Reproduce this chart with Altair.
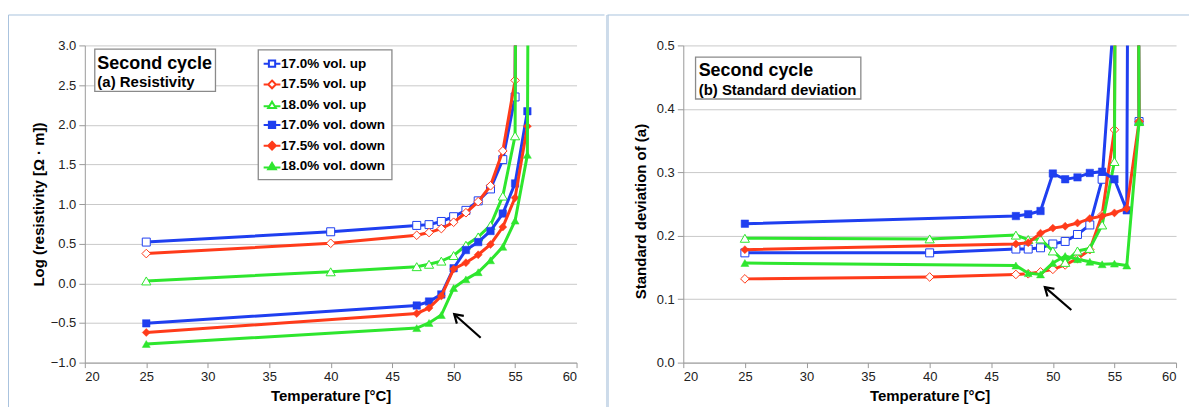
import altair as alt
import pandas as pd

FONT = "Liberation Sans"

# ---------------- data ----------------
series_names = ["17.0% vol. up", "17.5% vol. up", "18.0% vol. up",
                "17.0% vol. down", "17.5% vol. down", "18.0% vol. down"]

# (a) Log resistivity
res_t_up = [25, 40, 47, 48, 49, 50, 51, 52, 53, 54, 55, 56]
res_t_down = [25, 47, 48, 49, 50, 51, 52, 53, 54, 55, 56]
res_t_down_ext = [25, 47, 48, 49, 50, 51, 52, 53, 54, 55, 56, 57]
res_17_0_up = [0.52, 0.65, 0.73, 0.74, 0.78, 0.84, 0.92, 1.04, 1.19, 1.56, 2.35, 40]
res_17_5_up = [0.375, 0.505, 0.606, 0.64, 0.69, 0.77, 0.89, 1.03, 1.23, 1.67, 2.56, 40]
res_18_0_up = [0.03, 0.145, 0.21, 0.24, 0.28, 0.35, 0.48, 0.585, 0.73, 1.10, 1.86, 40]
res_17_0_down = [-0.505, -0.28, -0.23, -0.14, 0.19, 0.42, 0.52, 0.66, 0.88, 1.26, 2.17]
res_17_5_down = [-0.62, -0.38, -0.31, -0.16, 0.18, 0.26, 0.36, 0.49, 0.71, 1.08, 1.98]
res_18_0_down = [-0.765, -0.565, -0.50, -0.40, -0.06, 0.05, 0.14, 0.29, 0.46, 0.79, 1.62, 40]

# (b) Standard deviation
sd_t_up = [25, 40, 47, 48, 49, 50, 51, 52, 53, 54, 55, 56, 57]
sd_t_down = [25, 47, 48, 49, 50, 51, 52, 53, 54, 55, 56, 57]
sd_17_0_up = [0.173, 0.173, 0.179, 0.179, 0.181, 0.187, 0.191, 0.202, 0.217, 0.289, 0.56, 5.0, 0.38]
sd_17_5_up = [0.132, 0.135, 0.139, 0.140, 0.143, 0.147, 0.154, 0.164, 0.178, 0.233, 0.367, 5.0, 0.38]
sd_18_0_up = [0.196, 0.195, 0.201, 0.194, 0.195, 0.176, 0.158, 0.176, 0.180, 0.217, 0.317, 5.0, 0.38]
sd_17_0_down = [0.219, 0.231, 0.234, 0.239, 0.298, 0.289, 0.292, 0.299, 0.301, 0.289, 0.240, 5.0]
sd_17_5_down = [0.178, 0.187, 0.189, 0.204, 0.212, 0.215, 0.220, 0.227, 0.231, 0.236, 0.243, 0.38]
sd_18_0_down = [0.157, 0.153, 0.141, 0.139, 0.157, 0.168, 0.163, 0.159, 0.155, 0.156, 0.153, 0.38]

# annotation texts and arrows (data coordinates)
box_title = ["Second cycle"]
box_sub_a = ["(a) Resistivity"]
box_sub_b = ["(b) Standard deviation"]
arrow_a_tail = [52.2, -0.686]
arrow_a_head = [50.05, -0.39]
arrow_b_tail = [51.5, 0.083]
arrow_b_head = [49.35, 0.119]

# ---------------- styles ----------------
BLUE, RED, GREEN = "#1f3ff0", "#ff3b1a", "#2ee62e"
series_colors = [BLUE, RED, GREEN, BLUE, RED, GREEN]
series_shapes = ["square", "diamond", "triangle-up"] * 2
series_filled = [False, False, False, True, True, True]
series_sizes = [64, 75, 85, 56, 64, 64]

SQ = "M-1.2,0H-0.45M0.45,0H1.2M-0.45,-0.45H0.45V0.45H-0.45Z"
DI = "M-1.2,0H-0.55M0.55,0H1.2M0,-0.55L0.55,0L0,0.55L-0.55,0Z"
TR = "M-1.2,0.15H-0.5M0.5,0.15H1.2M0,-0.5L0.55,0.42L-0.55,0.42Z"
legend_paths = [SQ, DI, TR, SQ, DI, TR]
legend_fills = ["white", "white", "white", BLUE, RED, GREEN]

AXIS_GRAY = "#9a9a9a"
FRAME = "#a9c3de"


def x_enc():
    return alt.X("t:Q", scale=alt.Scale(domain=[20, 60], nice=False),
                 axis=alt.Axis(values=list(range(20, 61, 5)), title="Temperature [°C]",
                               grid=False, tickSize=5, labelPadding=3, titlePadding=5))


def y_enc(spec):
    lo, hi = spec["domain"]
    n = int(round((hi - lo) / spec["step"]))
    vals = [round(lo + i * spec["step"], 3) for i in range(n + 1)]
    axis_kw = dict(values=vals, format=".1f", title=spec["title"], grid=True,
                   tickSize=6, labelPadding=3, titlePadding=spec["tpad"])
    if "titleY" in spec:
        axis_kw["titleY"] = spec["titleY"]
    return alt.Y("v:Q", scale=alt.Scale(domain=spec["domain"], nice=False),
                 axis=alt.Axis(**axis_kw))


def series_layers(t_lists, v_lists, spec):
    layers = []
    for i, (ts, vs) in enumerate(zip(t_lists, v_lists)):
        df = pd.DataFrame({"t": ts, "v": vs})
        base = alt.Chart(df)
        enc = dict(x=x_enc(), y=y_enc(spec))
        layers.append(base.mark_line(color=series_colors[i], strokeWidth=3, clip=True).encode(**enc))
        layers.append(base.mark_point(shape=series_shapes[i], filled=True,
                                      fill=series_colors[i] if series_filled[i] else "white",
                                      stroke=series_colors[i],
                                      strokeWidth=1 if not series_filled[i] else 0.5,
                                      size=series_sizes[i], opacity=1, clip=True).encode(**enc))
    return layers


one = pd.DataFrame({"k": [0]})


def text_box(x0, x1, y0, y1, sub_text, tx, b1, b2):
    rect = alt.Chart(one).mark_rect(fill="white", stroke="#8a8a8a", strokeWidth=1.3).encode(
        x=alt.value(x0), x2=alt.value(x1), y=alt.value(y0), y2=alt.value(y1))
    t1 = alt.Chart(pd.DataFrame({"s": box_title})).mark_text(
        align="left", baseline="alphabetic", font=FONT, fontSize=18, fontWeight="bold", color="black"
    ).encode(text="s:N", x=alt.value(tx), y=alt.value(b1))
    t2 = alt.Chart(pd.DataFrame({"s": sub_text})).mark_text(
        align="left", baseline="alphabetic", font=FONT, fontSize=15, fontWeight="bold", color="black"
    ).encode(text="s:N", x=alt.value(tx), y=alt.value(b2))
    return [rect, t1, t2]


def arrow(tail, head, spec):
    df = pd.DataFrame({"t": [tail[0]], "v": [tail[1]], "t2": [head[0]], "v2": [head[1]]})
    shaft = alt.Chart(df).mark_rule(color="black", strokeWidth=2.2).encode(
        x=x_enc(), y=y_enc(spec), x2="t2:Q", y2="v2:Q")
    hd = pd.DataFrame({"t": [head[0]], "v": [head[1]]})
    tip = alt.Chart(hd).mark_point(shape="M-0.6,0.95L0,0L0.6,0.95", filled=False, stroke="black",
                                   strokeWidth=2.2, size=300, angle=312, opacity=1).encode(
        x=x_enc(), y=y_enc(spec))
    return [shaft, tip]


def frame(xl, xr, width, color):
    v = alt.Chart(one).mark_rule(color=color, strokeWidth=width).encode(
        x=alt.value(xl), y=alt.value(-30.5), y2=alt.value(364))
    h = alt.Chart(one).mark_rule(color=FRAME, strokeWidth=1).encode(
        x=alt.value(xl), x2=alt.value(xr), y=alt.value(-30.5))
    return [v, h]


# ---------------- left panel ----------------
spec_a = {"domain": [-1.0, 3.0], "step": 0.5, "title": "Log (resistivity [Ω · m])", "tpad": 4}
left_layers = series_layers(
    [res_t_up, res_t_up, res_t_up, res_t_down, res_t_down, res_t_down_ext],
    [res_17_0_up, res_17_5_up, res_18_0_up, res_17_0_down, res_17_5_down, res_18_0_down],
    spec_a)

legend_layer = alt.Chart(pd.DataFrame({"series": series_names})).mark_point(
    opacity=0, filled=True
).encode(
    shape=alt.Shape("series:N", scale=alt.Scale(domain=series_names, range=legend_paths),
                    legend=alt.Legend(title=None)),
    stroke=alt.Stroke("series:N", scale=alt.Scale(domain=series_names, range=series_colors),
                      legend=alt.Legend(title=None)),
    fill=alt.Fill("series:N", scale=alt.Scale(domain=series_names, range=legend_fills),
                  legend=alt.Legend(title=None)),
)

left = alt.layer(
    *frame(-76.5, 521, 1, FRAME),
    *left_layers,
    *arrow(arrow_a_tail, arrow_a_head, spec_a),
    *text_box(10, 131, 3.7, 46, box_sub_a, 12.6, 23.5, 41.5),
    legend_layer,
).properties(width=493, height=318)

# ---------------- right panel ----------------
spec_b = {"domain": [0.0, 0.5], "step": 0.1, "title": "Standard deviation of (a)", "tpad": 8,
          "titleY": 166}
right_layers = series_layers(
    [sd_t_up, sd_t_up, sd_t_up, sd_t_down, sd_t_down, sd_t_down],
    [sd_17_0_up, sd_17_5_up, sd_18_0_up, sd_17_0_down, sd_17_5_down, sd_18_0_down],
    spec_b)

right = alt.layer(
    *frame(-76, 507, 3, "#cddbea"),
    *right_layers,
    *arrow(arrow_b_tail, arrow_b_head, spec_b),
    *text_box(12.3, 178, 11.7, 53.7, box_sub_b, 15.4, 31, 49.3),
).properties(width=494, height=318)

chart = alt.hconcat(left, right, spacing=0).properties(
    padding={"left": 0, "top": 5, "right": 0, "bottom": 0}
).configure(font=FONT).configure_view(stroke=None).configure_axis(
    labelFont=FONT, labelFontSize=13, labelColor="#222222",
    titleFont=FONT, titleFontSize=15, titleFontWeight="bold", titleColor="black",
    domainColor=AXIS_GRAY, tickColor=AXIS_GRAY, gridColor="#c9c9c9", gridWidth=1,
).configure_legend(
    orient="none", legendX=173.7, legendY=4.3, fillColor="white", strokeColor="#8a8a8a",
    strokeWidth=1.3, padding=6, labelFont=FONT, labelFontSize=13.5, labelFontWeight="bold",
    labelColor="black", symbolSize=196, symbolStrokeWidth=2, symbolOpacity=1,
    rowPadding=4.8, labelOffset=1, cornerRadius=0,
)

chart.save("out.html", embed_options={"renderer": "svg", "actions": False})
